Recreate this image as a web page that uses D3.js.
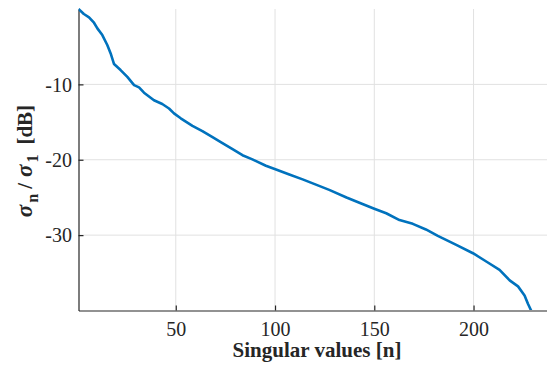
<!DOCTYPE html>
<html>
<head>
<meta charset="utf-8">
<script src="https://cdn.jsdelivr.net/npm/d3@7"></script>
<style>
  body { margin: 0; background: #fff; }
  svg { display: block; font-family: "Liberation Serif", "Times New Roman", serif; }
  .grid line { stroke: #e1e1e1; stroke-width: 1; }
</style>
</head>
<body>
<svg width="547" height="369"></svg>
<script>
// singular value index and normalised level
const nValues = [1, 3.7, 6.3, 8.8, 10.5, 13, 15.5, 17.2, 18.9, 22.2, 25.6, 29, 31.5, 34, 39,
  43.2, 46.6, 49.1, 52.5, 58.4, 63.4, 68.5, 73.5, 78.6, 83.6, 88.6, 95.4, 100.5, 107.2,
  113.9, 120.6, 127.3, 136, 142.5, 150, 156, 162.7, 169.4, 176, 182, 191.3, 199.7, 206.4,
  213.1, 218.2, 222.4, 225.7, 227.4, 229];
const dbValues = [0, -0.66, -1.1, -1.82, -2.57, -3.46, -4.78, -5.9, -7.3, -8.1, -9.0, -10.1,
  -10.4, -11.1, -12.1, -12.6, -13.2, -13.85, -14.5, -15.5, -16.2, -17.0, -17.8, -18.6, -19.4,
  -19.95, -20.8, -21.3, -21.95, -22.6, -23.3, -24.0, -25.0, -25.7, -26.5, -27.1, -28.0, -28.5,
  -29.25, -30.1, -31.3, -32.4, -33.5, -34.6, -36.0, -36.8, -38.0, -39.1, -40.0];
const xTicks = [50, 100, 150, 200];
const yTicks = [-10, -20, -30];

const data = nValues.map((n, i) => ({ n: n, db: dbValues[i] }));

const svg = d3.select("svg");
const pLeft = 78.5, pRight = 547, pTop = 9, pBottom = 310.5;

const x = d3.scaleLinear().domain([1, 237]).range([pLeft, pRight]);
const y = d3.scaleLinear().domain([-40, 0]).range([pBottom, pTop]);

// grid
const grid = svg.append("g").attr("class", "grid");
grid.selectAll(".vx").data(xTicks).enter().append("line")
  .attr("x1", d => x(d)).attr("x2", d => x(d))
  .attr("y1", pTop).attr("y2", pBottom);
grid.selectAll(".hy").data(yTicks).enter().append("line")
  .attr("x1", pLeft).attr("x2", pRight)
  .attr("y1", d => y(d)).attr("y2", d => y(d));

// axes (plain hyphen for negatives, like the original)
const fmt = d => String(d);
const xAxis = svg.append("g")
  .attr("transform", `translate(0,${pBottom})`)
  .call(d3.axisBottom(x).tickValues(xTicks).tickFormat(fmt)
    .tickSizeInner(-5).tickSizeOuter(0).tickPadding(10));
const yAxis = svg.append("g")
  .attr("transform", `translate(${pLeft},0)`)
  .call(d3.axisLeft(y).tickValues(yTicks).tickFormat(fmt)
    .tickSizeInner(-5).tickSizeOuter(0).tickPadding(6.5));

[xAxis, yAxis].forEach(a => {
  a.select(".domain").attr("stroke", "#262626").attr("stroke-width", 1.2);
  a.selectAll(".tick line").attr("stroke", "#262626").attr("stroke-width", 1.2);
  a.selectAll("text")
    .attr("fill", "#262626")
    .style("font-family", "'Liberation Serif', serif")
    .style("font-size", "20px");
});
xAxis.selectAll("text").attr("dy", "0.75em");
yAxis.selectAll("text").attr("dy", "0.34em");

// curve
svg.append("clipPath").attr("id", "plot")
  .append("rect").attr("x", pLeft).attr("y", pTop - 2)
  .attr("width", pRight - pLeft).attr("height", pBottom - pTop + 1.5);

const line = d3.line().x(d => x(d.n)).y(d => y(d.db));
svg.append("path")
  .datum(data)
  .attr("clip-path", "url(#plot)")
  .attr("fill", "none")
  .attr("stroke", "#0072BD")
  .attr("stroke-width", 2.6)
  .attr("stroke-linejoin", "round")
  .attr("d", line);

// labels
svg.append("text")
  .attr("x", 317).attr("y", 357)
  .attr("text-anchor", "middle")
  .attr("font-weight", "bold")
  .attr("font-size", "21px")
  .attr("fill", "#262626")
  .text("Singular values [n]");

const ylab = svg.append("text")
  .attr("transform", "translate(32,161) rotate(-90)")
  .attr("text-anchor", "middle")
  .attr("font-weight", "bold")
  .attr("font-size", "21px")
  .attr("fill", "#262626");
ylab.append("tspan").attr("font-style", "italic").attr("font-size", "23px").text("σ");
ylab.append("tspan").attr("dy", 6).attr("dx", 2).attr("font-size", "16px").text("n");
ylab.append("tspan").attr("dy", -6).attr("dx", 5).text("/");
ylab.append("tspan").attr("dx", 6).attr("font-style", "italic").attr("font-size", "23px").text("σ");
ylab.append("tspan").attr("dy", 6).attr("dx", 2).attr("font-size", "16px").text("1");
ylab.append("tspan").attr("dy", -6).attr("dx", 10).text("[dB]");
</script>
</body>
</html>
